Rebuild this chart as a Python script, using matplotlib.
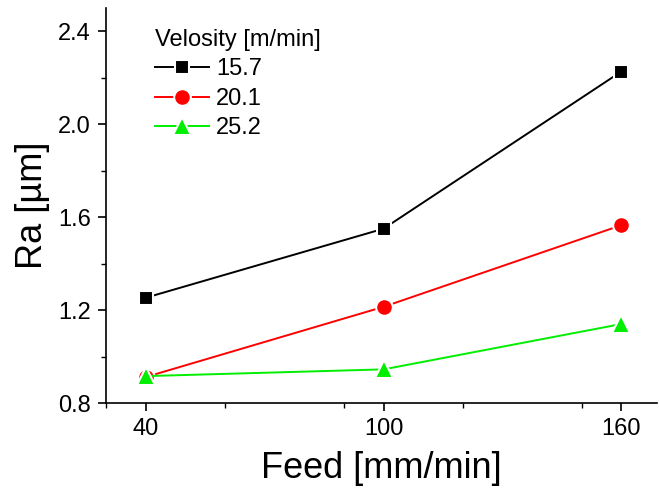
import matplotlib.pyplot as plt
from matplotlib.ticker import MultipleLocator

plt.rcParams["font.family"] = ["Liberation Sans", "DejaVu Sans"]

# 数据
feed = [40, 100, 160]
ra_157 = [1.253, 1.550, 2.226]
ra_201 = [0.912, 1.214, 1.565]
ra_252 = [0.916, 0.945, 1.140]

series = [
    ("15.7", ra_157, "black", "s", 10),
    ("20.1", ra_201, "red", "o", 12),
    ("25.2", ra_252, "#00ee00", "^", 13),
]

fig = plt.figure(figsize=(6.59, 4.88), dpi=100)
ax = fig.add_axes([0.161, 0.174, 0.836, 0.81])

for label, vals, color, marker, ms in series:
    ax.plot(
        feed,
        vals,
        color=color,
        marker=marker,
        markersize=ms,
        markeredgecolor="white",
        markeredgewidth=1.5,
        markerfacecolor=color,
        linewidth=1.4,
        label=label,
    )

ax.set_xlim(30, 169)
ax.set_ylim(0.8, 2.5)
ax.set_xticks(feed)
ax.xaxis.set_minor_locator(MultipleLocator(30))
ax.yaxis.set_major_locator(MultipleLocator(0.4))
ax.yaxis.set_minor_locator(MultipleLocator(0.2))
ax.yaxis.set_major_formatter(plt.FuncFormatter(lambda v, p: f"{v:.1f}"))

ax.spines["top"].set_visible(False)
ax.spines["right"].set_visible(False)
ax.spines["left"].set_linewidth(1.2)
ax.spines["bottom"].set_linewidth(1.2)
ax.tick_params(which="major", direction="out", length=6, width=1.2,
               labelsize=17, pad=5)
ax.tick_params(which="minor", direction="out", length=3.5, width=1.0)

ax.set_xlabel("Feed [mm/min]", fontsize=26, labelpad=8)
ax.set_ylabel("Ra [µm]", fontsize=26, labelpad=6)

leg = ax.legend(
    title="Velosity [m/min]",
    loc="upper left",
    bbox_to_anchor=(150 / 659, 1 - 24 / 488),
    bbox_transform=fig.transFigure,
    frameon=False,
    fontsize=17,
    title_fontsize=17,
    handlelength=2.3,
    handletextpad=0.3,
    labelspacing=0.32,
    borderaxespad=0.0,
    borderpad=0.2,
)
leg._legend_box.align = "left"

fig.savefig("out.png", dpi=100)
